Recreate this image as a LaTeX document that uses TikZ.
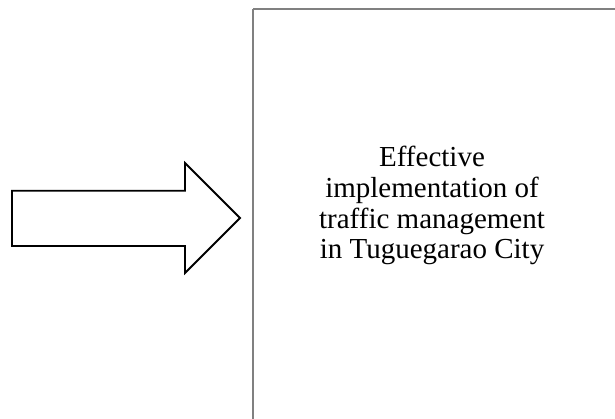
\documentclass[tikz,border=0pt]{standalone}
\usepackage{fontspec}
\setmainfont{Liberation Serif}
\begin{document}
\begin{tikzpicture}[x=1pt,y=-1pt,
  arrowshape/.style={draw=black,line width=1.8pt,line join=miter,fill=white},
  framebox/.style={draw=gray,line width=2pt},
  boxtext/.style={align=center,inner sep=0pt,font=\fontsize{29}{30.7}\selectfont}]
\useasboundingbox (0,0) rectangle (615,418);
\fill[white] (0,0) rectangle (615,418);
\draw[framebox] (253,9) -- (640,9) (253,9) -- (253,440);
\coordinate (frameTL) at (253,9);
\draw[arrowshape] (12,190.7) -- (185,190.7) -- (185,163) -- (240,218) -- (185,273) -- (185,246) -- (12,246) -- cycle;
\node[boxtext] (label) at (432,205.6) {Effective\\implementation of\\traffic management\\in Tuguegarao City};
\end{tikzpicture}
\end{document}
